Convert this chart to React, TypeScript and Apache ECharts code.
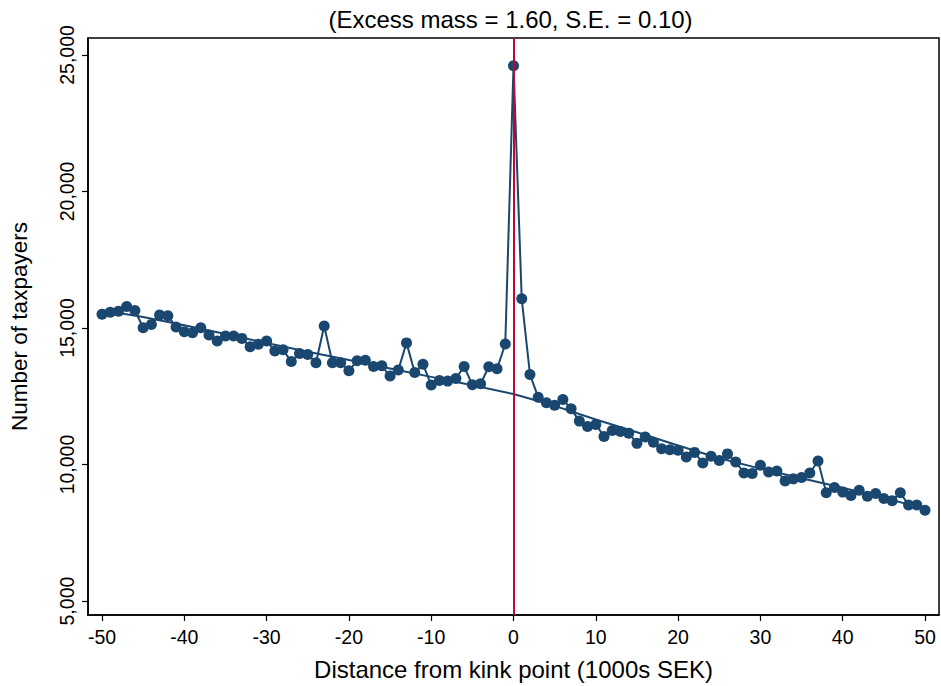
import React, { useEffect, useRef } from "react";
import * as echarts from "echarts";

const bins = [
  -50, -49, -48, -47, -46, -45, -44, -43, -42, -41,
  -40, -39, -38, -37, -36, -35, -34, -33, -32, -31,
  -30, -29, -28, -27, -26, -25, -24, -23, -22, -21,
  -20, -19, -18, -17, -16, -15, -14, -13, -12, -11,
  -10, -9, -8, -7, -6, -5, -4, -3, -2, -1,
  0, 1, 2, 3, 4, 5, 6, 7, 8, 9,
  10, 11, 12, 13, 14, 15, 16, 17, 18, 19,
  20, 21, 22, 23, 24, 25, 26, 27, 28, 29,
  30, 31, 32, 33, 34, 35, 36, 37, 38, 39,
  40, 41, 42, 43, 44, 45, 46, 47, 48, 49, 50,
];

const taxpayers = [
  15500, 15580, 15610, 15790, 15645, 15010, 15130, 15475, 15450, 15035,
  14865, 14830, 15010, 14745, 14525, 14710, 14710, 14620, 14310, 14405,
  14525, 14160, 14200, 13770, 14065, 14030, 13730, 15070, 13725, 13725,
  13435, 13800, 13820, 13590, 13615, 13240, 13460, 14455, 13370, 13675,
  12910, 13080, 13055, 13150, 13590, 12920, 12960, 13580, 13505, 14415,
  24600, 16070, 13300, 12460, 12260, 12170, 12380, 12040, 11590, 11395,
  11470, 11030, 11250, 11210, 11150, 10775, 11005, 10820, 10580, 10540,
  10520, 10275, 10445, 10055, 10300, 10145, 10390, 10095, 9690, 9670,
  9970, 9730, 9765, 9400, 9475, 9525, 9690, 10130, 8965, 9160,
  8990, 8870, 9060, 8840, 8940, 8760, 8670, 8965, 8515, 8515, 8330,
];

const fitBins = [-50, -45, -40, -35, -30, -25, -20, -15, -10, -5, 0, 5, 10, 15, 20, 25, 30, 35, 40, 45, 50];
const fitValues = [
  15650, 15400, 15100, 14780, 14450, 14130, 13830, 13520, 13210, 12900,
  12580, 12150, 11650, 11180, 10700, 10230, 9850, 9500, 9150, 8780, 8380,
];

const xTicks = [-50, -40, -30, -20, -10, 0, 10, 20, 30, 40, 50];
const yTicks = [5000, 10000, 15000, 20000, 25000];
const kinkPoint = 0;
const titleText = "(Excess mass = 1.60, S.E. = 0.10)";

const NAVY = "#1a476f";
const RED = "#c10534";
const FONT = "'Liberation Sans', Arial, sans-serif";

export default function App() {
  const ref = useRef<HTMLDivElement>(null);

  useEffect(() => {
    if (!ref.current) return;
    const chart = echarts.init(ref.current, null, { renderer: "svg" });
    const gridLeft = 82;
    const gridRight = 2;
    const plotCenter = gridLeft + (941 - gridLeft - gridRight) / 2;
    chart.setOption({
      animation: false,
      backgroundColor: "#ffffff",
      textStyle: { fontFamily: FONT },
      graphic: [
        {
          type: "text",
          x: plotCenter,
          y: 19,
          style: {
            text: titleText,
            fontSize: 24,
            fontFamily: FONT,
            fill: "#000",
            textAlign: "center",
            textVerticalAlign: "middle",
          },
        },
      ],
      grid: {
        left: gridLeft,
        right: gridRight,
        top: 38,
        bottom: 67,
        show: true,
        borderColor: "#000",
        borderWidth: 1.5,
      },
      xAxis: {
        type: "value",
        min: -51.7,
        max: 51.7,
        name: "Distance from kink point (1000s SEK)",
        nameLocation: "middle",
        nameGap: 42,
        nameTextStyle: { fontSize: 24, color: "#000", fontFamily: FONT },
        axisLine: { show: true, onZero: false, lineStyle: { color: "#000", width: 1.5 } },
        axisTick: { show: true, length: 6, lineStyle: { color: "#000", width: 1.2 }, customValues: xTicks },
        axisLabel: {
          fontSize: 19.5,
          color: "#000",
          margin: 12,
          fontFamily: FONT,
          customValues: xTicks,
          formatter: (v: number) => String(v),
        },
        splitLine: { show: false },
      },
      yAxis: {
        type: "value",
        min: 4490,
        max: 25620,
        name: "Number of taxpayers",
        nameLocation: "middle",
        nameGap: 57,
        nameRotate: 90,
        nameTextStyle: { fontSize: 22.5, color: "#000", fontFamily: FONT },
        axisLine: { show: true, onZero: false, lineStyle: { color: "#000", width: 1.5 } },
        axisTick: { show: true, length: 6, lineStyle: { color: "#000", width: 1.2 }, customValues: yTicks },
        axisLabel: {
          fontSize: 19.5,
          color: "#000",
          rotate: 90,
          margin: 11,
          fontFamily: FONT,
          customValues: yTicks,
          formatter: (v: number) => v.toLocaleString("en-US"),
        },
        splitLine: { show: false },
      },
      series: [
        {
          type: "line",
          data: fitBins.map((b, i) => [b, fitValues[i]]),
          showSymbol: false,
          symbol: "none",
          lineStyle: { color: NAVY, width: 2 },
          itemStyle: { color: NAVY },
          z: 2,
          markLine: {
            silent: true,
            symbol: "none",
            label: { show: false },
            lineStyle: { color: RED, width: 2, type: "solid" },
            data: [{ xAxis: kinkPoint }],
          },
        },
        {
          type: "line",
          data: bins.map((b, i) => [b, taxpayers[i]]),
          symbol: "circle",
          symbolSize: 11,
          showSymbol: true,
          lineStyle: { color: NAVY, width: 2 },
          itemStyle: { color: NAVY },
          z: 3,
        },
      ],
    });
    return () => chart.dispose();
  }, []);

  return (
    <div
      ref={ref}
      style={{ position: "absolute", left: 0, top: 0, width: 941, height: 686 }}
    />
  );
}
